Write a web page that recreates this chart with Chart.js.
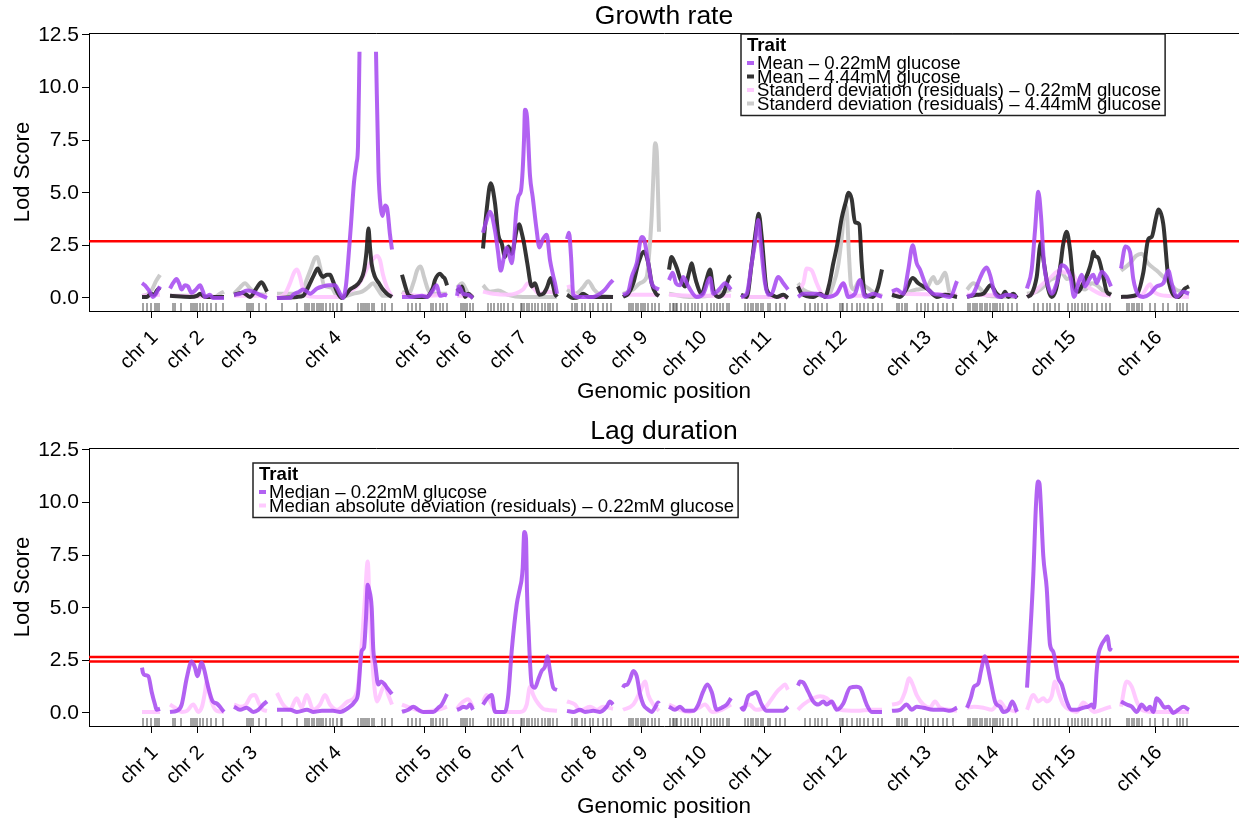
<!DOCTYPE html>
<html>
<head>
<meta charset="utf-8">
<script src="https://cdn.jsdelivr.net/npm/chart.js@4.4.1/dist/chart.umd.min.js"></script>
<style>
  body { margin: 0; background: #fff; overflow: hidden; }
  canvas { display: block; }
</style>
</head>
<body>
<canvas id="growthChart" width="1239" height="415"></canvas>
<canvas id="lagChart" width="1239" height="415"></canvas>
<script>
// chromosome layout (cM), gaps between chromosomes
const chromosomes = ["chr 1", "chr 2", "chr 3", "chr 4", "chr 5", "chr 6", "chr 7", "chr 8",
  "chr 9", "chr 10", "chr 11", "chr 12", "chr 13", "chr 14", "chr 15", "chr 16"];
const chrLengths = [18, 54, 33, 115, 45, 16, 74, 46, 36, 62, 47, 84, 65, 50, 84, 68];
const chrGap = 10;
const yTicks = [0, 2.5, 5, 7.5, 10, 12.5];

// marker positions per chromosome (cM from chromosome start)
const markerPositions = [
  [1, 5, 9, 13, 15, 17],
  [3, 5, 11, 21, 23, 25, 27, 30, 33, 37, 41, 46, 53],
  [13, 15, 17, 19, 25, 32],
  [5, 20, 28, 30, 32, 35, 37, 40, 42, 44, 46, 49, 53, 56, 60, 64, 65, 81, 84, 86, 88, 90, 92, 95, 97, 105, 108, 115],
  [6, 10, 14, 18, 29, 31, 34, 38, 41, 45],
  [4, 6, 8, 10, 13, 16],
  [5, 8, 11, 15, 18, 21, 25, 30, 38, 39, 41, 44, 46, 49, 52, 55, 59, 62, 65, 67, 70, 74],
  [5, 8, 10, 15, 18, 23, 26, 31, 36, 40, 44],
  [6, 8, 10, 13, 15, 18, 20, 22, 25, 29, 32, 36],
  [1, 4, 5, 7, 8, 12, 16, 19, 23, 26, 29, 33, 38, 42, 45, 48, 51, 54, 58, 60],
  [4, 7, 10, 12, 15, 17, 20, 22, 27, 29, 35, 39, 44],
  [7, 12, 17, 20, 24, 29, 42, 44, 45, 49, 54, 59, 62, 66, 70, 75, 80, 84],
  [5, 7, 10, 13, 15, 25, 29, 33, 36, 41, 46, 51, 55, 61],
  [1, 3, 6, 8, 10, 13, 15, 18, 20, 23, 26, 28, 30, 33, 36, 41, 45, 50],
  [7, 11, 16, 20, 23, 28, 32, 41, 45, 48, 51, 55, 58, 61, 65, 70, 75, 79, 83],
  [6, 8, 11, 13, 16, 18, 21, 29, 34, 42, 47, 56, 59, 62, 66]
];

// LOD thresholds
const growthThresholds = [2.7];
const lagThresholds = [2.66, 2.45];

// LOD profiles: per chromosome, [position (cM), LOD]
const growthMean022 = [
  [[0,0.7],[3,0.6],[7,0.35],[11,0.05],[14,0.2],[18,0.55]],
  [[0,0.45],[3,0.7],[6.5,0.9],[9,0.7],[11.5,0.4],[15,0.6],[18,0.55],[21.5,0.25],[26,0.4],[30,0.6],[33,0.3],[35,0.05],[40,0.15],[43,0],[54,0]],
  [[0,0.15],[6,0.2],[13,0.35],[19,0.3],[26,0.15],[33,0]],
  [[0,0],[13,0],[16,0.15],[22,0.3],[26,0.4],[30,0.3],[33,0.2],[40,0.45],[46,0.55],[52,0.6],[58,0.6],[61,0.4],[63,0.2],[66,0],[69,0.6],[71,1.65],[74,3.5],[77,5.5],[79.5,6.4],[81,7.2],[82.5,11.7],[90,null],[99,11.7],[101.5,6.0],[103.7,4.3],[105.5,3.9],[108,4.4],[110,4.3],[113,3.0],[115,2.3]],
  [[0,0.05],[10,0.05],[20,0.1],[25,0.05],[30,0.3],[34.7,0.6],[38,0.1],[43,0.15],[45,0.1]],
  [[0,0.1],[2,0.55],[6,0.2],[11,0.15],[16,0]],
  [[0,3.1],[3,3.6],[7,4.1],[12,3.2],[15,2.2],[17.7,1.3],[21,1.95],[23.7,2.4],[26,2.1],[28.7,1.65],[31,2.6],[33,4.0],[35.3,4.8],[38,5.1],[39.7,6.1],[41,7.5],[42,8.95],[44,8.6],[47,5.8],[49.7,4.8],[53.7,3.2],[56.3,2.4],[60,2.8],[63.7,3.0],[67,1.8],[70,1.1],[72,0.7],[74,0.2]],
  [[0,2.8],[2,3.1],[4,2.0],[6.3,0.15],[10,0.05],[26,0.05],[33,0.2],[38,0.4],[43,0.7],[46,0.85]],
  [[0,0.15],[5.3,0.3],[8.7,1.0],[13.7,1.65],[18.7,2.9],[21,2.8],[25.3,1.65],[28.7,0.7],[33.7,0.45],[36,0.4]],
  [[0,0.85],[3.7,1.2],[7,0.7],[11,0.6],[14.3,1.0],[19.3,0.55],[27.7,0.05],[34.3,0.2],[41,0.95],[44.3,0.2],[51,0.45],[56,0.7],[62,0.4]],
  [[0,0.05],[5.7,0.2],[10.7,1.65],[14,2.6],[17.3,3.7],[19.7,2.6],[24,0.7],[27.3,0.15],[30.7,0.2],[37.3,1.0],[42.3,0.7],[47,0.4]],
  [[0,0.05],[5.3,0.2],[18.7,0.2],[28.7,0.05],[38.7,0.2],[45.3,0.7],[50.3,0.05],[57,0.2],[62,0.85],[67,0.05],[75.3,0.2],[84,0.05]],
  [[0,0.3],[4.7,0.4],[11.3,0.2],[16.3,1.35],[20.7,2.5],[24.7,1.65],[28,1.35],[33,0.7],[36.3,0.4],[41.3,0.2],[48,0.15],[58,0.05],[65,0.8]],
  [[0,0.05],[6.3,0.2],[13,0.95],[16.5,1.3],[19.7,1.45],[23,1.1],[28,0.2],[33,0.05],[39.7,0.15],[50,0.05]],
  [[0,0.45],[4.7,1.35],[8,3.2],[11.3,5.05],[14,3.9],[17,1.65],[21.3,0.55],[24.7,0.2],[29.7,0.7],[34.7,1.55],[39.7,1.4],[43.7,0.95],[47,0.05],[51.3,0.7],[54.7,1.1],[58,0.55],[63,0.95],[66.3,1.1],[69.7,0.7],[74.7,1.25],[79.7,1.0],[84,0.55]],
  [[0,1.4],[4.5,2.45],[9,2.2],[12.3,0.9],[17.3,0.15],[22.3,0.05],[29,0.2],[35.7,0.55],[42.3,0.7],[47.3,1.3],[50.7,0.7],[55.7,0.05],[62.3,0.3],[68,0.2]]
];

const growthMean444 = [
  [[0,0.05],[5,0.05],[9,0.2],[12,0.15],[15,0.35],[18,0.5]],
  [[0,0.1],[20,0.05],[27,0.1],[30,0.2],[35,0.05],[54,0.05]],
  [[0,0.15],[9,0.25],[16,0.05],[23,0.5],[27.5,0.75],[33,0.3]],
  [[0,0],[20,0.05],[26,0.1],[30,0.4],[33,0.7],[37,1.1],[40.7,1.4],[44,1.1],[46,1.0],[50,1.1],[53,1.1],[56,0.8],[60,0.3],[64.7,0],[69,0.15],[73,0.4],[78,0.55],[83,0.8],[87,1.3],[89.5,2.2],[91.5,3.3],[93,2.4],[94.7,1.6],[98,1.0],[102,0.7],[106,0.4],[110,0.2],[115,0.05]],
  [[0,1.1],[3,0.6],[6.3,0.15],[12,0.05],[25,0.05],[28,0.2],[31,0.5],[33,0.85],[38,1.15],[41,1.0],[43,0.9],[45,0.6]],
  [[0,0.45],[3,0.3],[5,0.55],[8,0.05],[11.3,0.2],[16,0]],
  [[0,2.35],[3.7,4.2],[7.7,5.45],[12,4.5],[15.3,3.0],[18.7,2.6],[22,1.95],[25.3,2.45],[28.7,2.1],[33.7,3.25],[36.3,3.5],[38.7,3.1],[41,2.6],[44.3,1.65],[48.7,0.55],[52,0.7],[56.3,0.15],[60.3,0.2],[64,0.5],[67.7,0.95],[70,0.6],[72,0.2],[74,0.05]],
  [[0,0.15],[6,0],[12,0.05],[16,0.2],[22,0.05],[46,0.05]],
  [[0,0.05],[5.3,0.2],[10.3,0.7],[15.3,1.65],[21,2.2],[25.3,1.65],[28.7,0.7],[33,0.2],[36,0.1]],
  [[0,1.35],[2.5,1.95],[5,1.75],[8,1.4],[11,0.95],[16,0.55],[20,1.2],[22.7,1.65],[25,1.2],[27.7,0.7],[32.7,0.2],[37,0.8],[41,1.35],[44.3,0.4],[49.3,0.05],[54.3,0.2],[60.3,1.0],[62,1.05]],
  [[0,0.15],[5.7,0.05],[10.7,1.65],[15,3.25],[17.7,4.0],[20.7,2.9],[25.7,0.4],[30.7,0.15],[35.7,0.05],[42.3,0.15],[47,0]],
  [[0,0.55],[3.7,0.2],[15.3,0.05],[22,0.2],[27,0.05],[31,0.6],[35.3,1.65],[38.7,2.4],[43.7,3.8],[48,4.6],[50.3,5.0],[53.7,4.7],[57,3.6],[61.3,3.5],[63.7,1.65],[67,0.15],[75,0.05],[80,0.5],[84,1.35]],
  [[0,0.15],[8,0.05],[14,0.4],[20.7,0.95],[26.3,0.7],[31.3,0.55],[36.3,0.4],[44.7,0.05],[53,0.15],[65,0.05]],
  [[0,0.05],[9.7,0.15],[16.3,0.2],[23.7,0.6],[29.7,0.2],[34.7,0.05],[38,0.3],[41.3,0.05],[46.3,0.2],[50,0]],
  [[0,0.05],[4.7,0.2],[9.7,1.0],[13.7,2.6],[17,1.65],[21.3,0.4],[24.7,0.05],[29,0.4],[33.7,1.65],[36,2.5],[39.7,3.15],[43,2.3],[47,0.55],[51.3,0.3],[54.7,0.55],[61,1.2],[64.7,1.8],[66.3,2.2],[68,2.0],[71.3,1.9],[76.3,1.0],[79.7,0.3],[84,0.15]],
  [[0,0.05],[15.7,0.15],[22.3,1.2],[27.3,2.8],[30.7,2.9],[35,3.8],[37.3,4.2],[42.3,3.5],[47.3,0.95],[52.3,0.15],[57.3,0.05],[64,0.45],[68,0.55]]
];

const growthSd022 = [
  [[0,0.1],[18,0.15]],
  [[0,0.1],[54,0.05]],
  [[0,0.1],[33,0.1]],
  [[0,0],[8,0.2],[13,0.7],[17,1.2],[20,1.35],[23,1.0],[26,0.4],[30,0.1],[40,0.05],[64,0.05],[72,0.3],[80,0.55],[86,1.0],[91,1.5],[96,1.85],[100,2.0],[103,1.8],[106,1.1],[110,0.5],[115,0.05]],
  [[0,0.2],[20,0.1],[45,0.15]],
  [[0,0.1],[16,0.1]],
  [[0,0.3],[10,0.2],[25,0.15],[40,0.4],[45,0.7],[50,0.5],[56,0.2],[65,0.3],[74,0.2]],
  [[0,0.5],[3,0.55],[7,0.2],[13,0.05],[46,0.05]],
  [[0,0.15],[36,0.15]],
  [[0,0.15],[30,0.1],[62,0.1]],
  [[0,0.05],[47,0.05]],
  [[0,0.4],[5.3,0.7],[8.7,1.4],[13.7,1.3],[18.7,0.7],[23.7,0.2],[30,0.05],[40,0.3],[45,0.7],[50,0.3],[57,0.1],[84,0.1]],
  [[0,0.2],[65,0.15]],
  [[0,0.15],[50,0.1]],
  [[0,0.05],[8,0.3],[13,0.55],[23,0.95],[33,1.3],[38,1.2],[43,1.3],[50,0.8],[56,0.7],[65,0.4],[73,0.2],[84,0.1]],
  [[0,0.05],[20,0.1],[29,0.65],[33,0.3],[45,0.1],[68,0.05]]
];

const growthSd444 = [
  [[0,0.1],[5,0.15],[10,0.4],[14,0.8],[18,1.1]],
  [[0,0.1],[30,0.1],[45,0.05],[50,0.2],[54,0.3]],
  [[0,0.2],[6,0.5],[11,0.7],[16,0.45],[22.7,0.2],[33,0.15]],
  [[0,0.2],[19,0.2],[26,0.4],[30,0.9],[34,1.4],[38,1.9],[40,1.95],[43,1.5],[47,0.6],[54,0.5],[61,0.05],[70,0.1],[76,0.2],[85,0.3],[91,0.5],[96,0.7],[101,0.4],[106,0.1],[115,0.1]],
  [[0,0.3],[6,0.15],[12,0.8],[15,1.3],[18.7,1.5],[22,1.0],[26,0.4],[30,0.2],[45,0.2]],
  [[0,0.5],[5,0.7],[9,0.4],[11.3,0.2],[16,0.05]],
  [[0,0.6],[7,0.3],[15,0.35],[25,0.15],[40,0.05],[74,0.05]],
  [[0,0.4],[8,0.2],[16,0.5],[21.3,0.8],[27,0.4],[33,0.15],[46,0.05]],
  [[0,0.2],[10,0.4],[17,0.7],[23.7,1.0],[26,2.0],[28.7,3.9],[31,6.5],[32,7.35],[33.7,7.0],[35,5.0],[36,3.15]],
  [[0,0.2],[20,0.05],[40,0.1],[56,0.3],[62,0.4]],
  [[0,0.05],[47,0.05]],
  [[0,0.7],[5,0.4],[15,0.2],[30,0.1],[35,0.6],[40,1.5],[44,3.0],[47,4.4],[49,4.0],[51,2.0],[53,0.6],[56,0.4],[61,0.8],[66,0.6],[72,0.4],[78,0.2],[84,0.1]],
  [[0,0.05],[11.3,0.2],[24.7,0.4],[35,0.5],[41.3,1.0],[44.7,0.7],[48,0.8],[53,1.2],[58,0.2],[65,0.05]],
  [[0,0.4],[6.3,0.7],[13,0.45],[20,0.1],[50,0.05]],
  [[0,0.2],[10,0.3],[18,0.6],[23,0.85],[30,1.0],[34.7,1.2],[40,0.9],[43,0.95],[50,0.6],[58,0.4],[65,0.7],[70,0.6],[77,0.3],[84,0.2]],
  [[0,1.3],[9,1.65],[15,2.0],[20.7,2.1],[27,1.65],[35.7,1.3],[42.3,1.0],[49,0.7],[55,0.4],[62,0.3],[68,0.2]]
];

const lagMedian022 = [
  [[0,2.15],[1,1.9],[3,1.8],[6.3,1.75],[9.7,1.0],[13,0.4],[14.7,0.15],[18,0.2]],
  [[0,0.05],[6.7,0.1],[11.7,0.4],[16.7,1.65],[21.7,2.45],[25,2.15],[27.3,1.75],[31.7,2.4],[34,2.1],[38.3,1.2],[42.7,0.55],[46.7,0.45],[54,0.05]],
  [[0,0.3],[6,0.15],[12.7,0.25],[19.3,0.05],[24.3,0.15],[29.3,0.4],[33,0.55]],
  [[0,0.15],[13,0.15],[20,0.05],[30,0.15],[36,0.05],[45,0.1],[56,0.1],[63,0.05],[70,0.2],[78,0.55],[81,0.9],[84.7,2.95],[87,3.1],[89,4.5],[90.7,6.1],[92,5.9],[94.7,5.0],[96.3,3.0],[98,2.4],[101.3,1.35],[104,1.5],[107,1.4],[110,1.2],[115,0.9]],
  [[0,0.05],[6.3,0.15],[11.3,0.3],[16.3,0.15],[21.3,0.05],[31.3,0.05],[36.3,0.25],[39.7,0.4],[45,0.9]],
  [[0,0.15],[3,0.2],[6.3,0.3],[9.7,0.25],[13,0.4],[16,0.15]],
  [[0,0.4],[4.3,0.7],[8.7,0.85],[12,0.05],[22,0.05],[25.3,0.85],[28.7,2.95],[33.7,5.15],[37,5.95],[38.5,6.3],[39.7,6.9],[41.3,8.6],[43,8.3],[44,5.8],[45.3,4.2],[48.7,1.35],[52,1.2],[55.3,1.6],[58.7,2.0],[62,2.2],[64.3,2.7],[67,2.0],[70.3,1.2],[74,1.1]],
  [[0,0.1],[6.3,0.05],[13,0.15],[18,0.05],[26.3,0.1],[33,0.05],[39.7,0.3],[43,0.55],[46,0.4]],
  [[0,1.2],[1,1.3],[4.3,1.35],[7,1.6],[10.3,2.0],[13.7,1.75],[17,0.9],[20.3,0.4],[25.3,0.15],[28.7,0.05],[32,0.25],[35.3,0.5],[36,0.45]],
  [[0,0.3],[6,0.15],[11,0.3],[16,0.1],[24.3,0.1],[29.3,0.4],[34,1.0],[38.3,1.35],[42.7,1.0],[47.7,0.15],[52.7,0.25],[57.7,0.4],[62,0.7]],
  [[0,0.3],[2.3,0.15],[7.3,0.8],[10.7,0.9],[15,1.0],[20.7,0.4],[25.7,0.1],[35,0.1],[42.3,0.1],[47,0.3]],
  [[0,1.3],[2,1.5],[5.3,1.45],[10.3,1.0],[15.3,0.55],[20.3,0.4],[25.3,0.55],[28.7,0.4],[33.7,0.55],[38.7,0.15],[45.3,0.45],[52,1.2],[58.7,1.25],[62,1.2],[68.7,0.4],[73.7,0.05],[84,0.05]],
  [[0,0.1],[8,0.15],[14.7,0.4],[19.7,0.15],[24.7,0.3],[31.3,0.25],[41.3,0.15],[51.3,0.15],[58,0.1],[65,0.25]],
  [[0,0.25],[3.7,0.7],[7,1.25],[11.3,1.4],[14,2.0],[18,2.7],[20.3,2.3],[23.7,1.5],[28,0.55],[29.7,0.4],[33,0.3],[36.3,0.05],[41.3,0.15],[45.3,0.55],[50,0.05]],
  [[0,1.2],[3,3.55],[6.3,6.55],[9,9.9],[11,11.0],[12.5,10.9],[13.7,10.0],[16.3,7.45],[19.7,5.95],[23,3.25],[26.3,2.9],[31.3,1.65],[34.7,1.35],[39.7,0.55],[44.7,0.15],[49.7,0.15],[56.3,0.25],[61.3,0.3],[64.7,0.4],[67,0.25],[69.7,2.0],[71.3,2.75],[74.7,3.25],[78,3.5],[80.3,3.65],[83,3.0],[84,3.1]],
  [[0,0.55],[5.7,0.4],[10.7,0.3],[15.7,0.05],[20.7,0.4],[25.7,0.15],[29,0.3],[32.3,0.05],[35.7,0.7],[39,0.55],[44,0.25],[47.3,0.3],[52.3,0],[57.3,0.15],[62.3,0.3],[68,0.15]]
];

const lagMad022 = [
  [[0,0.05],[18,0.05]],
  [[0,0.4],[5,0.25],[11.7,0.05],[17,0.1],[23.3,0.4],[28.3,0.05],[32,0.3],[35,1.0],[36.7,1.5],[39,1.0],[41.7,0.5],[46.7,0.1],[54,0.05]],
  [[0,0.4],[6,0.3],[12,0.4],[17,0.8],[21,0.85],[25,0.45],[29,0.15],[33,0.1]],
  [[0,0.95],[6,0.4],[13,0.15],[19.7,0.7],[24.7,0.25],[29.7,0.85],[36.3,0.15],[43,0.4],[48,0.85],[53,0.4],[59.7,0.15],[71,0.55],[80,1.0],[84,2.8],[88,5.5],[90.7,7.2],[93,4.5],[96,2.0],[100,0.55],[105,1.1],[108,1.35],[111,0.9],[115,0.4]],
  [[0,0.4],[8,0.25],[14.7,0.15],[21.3,0.05],[36,0.15],[45,0.3]],
  [[0,0.2],[3,0.4],[11.3,0.65],[16,0.25]],
  [[0,0.55],[3.7,0.85],[8.7,0.4],[13.7,0.05],[37,0.05],[43.7,0.4],[47,1.25],[50.3,0.85],[53.7,0.55],[60,0.2],[63.7,0.15],[74,0.1]],
  [[0,0.55],[8,0.4],[13,0.1],[23,0.3],[29.7,0.15],[36,0.3],[46,0.2]],
  [[0,0.15],[10.3,0.4],[17,1.0],[22,1.5],[25.3,0.85],[30.3,0.4],[36,0.1]],
  [[0,0.4],[11,0.15],[20,0.05],[30,0.25],[36,0.4],[43,0.05],[52.7,0.15],[62,0.4]],
  [[0,0.15],[8,0.4],[15,0.15],[25,0.3],[29,0.55],[35.7,1.0],[40,1.2],[44,1.35],[47,1.1]],
  [[0,0.15],[5.3,0.4],[15.3,0.7],[22,0.8],[28.7,0.7],[35.3,0.4],[42,0.15],[58.7,0.1],[73.7,0.15],[84,0.15]],
  [[0,0.4],[8,0.5],[13,1.0],[17.3,1.65],[20.7,1.35],[24.7,0.85],[31.3,0.4],[38,0.25],[43,0.55],[48,0.25],[58,0.15],[65,0.1]],
  [[0,0.25],[7,0.3],[16.3,0.25],[24.7,0.15],[33,0.55],[38,0.25],[50,0.05]],
  [[0,0.15],[6.3,0.85],[11.3,0.55],[16.3,0.7],[19.7,0.55],[24.7,0.8],[28,1.5],[31.3,1.0],[36.3,0.4],[43,0.15],[49.7,0.05],[56.3,0.5],[61.3,0.3],[67,0.05],[74.7,0.15],[84,0.3]],
  [[0,0.3],[5.7,1.5],[10.7,1.25],[15.7,0.55],[20.7,0.15],[35,0.05],[68,0.05]]
];

// cumulative chromosome starts along the genome axis
const chrStart = [];
chrLengths.reduce((pos, len, i) => { chrStart[i] = pos; return pos + len + chrGap; }, 0);
const chrMid = chrLengths.map((len, i) => chrStart[i] + len / 2);

const xMin = -53, xMax = 1097;
const yMin = -0.62, yMax = 12.595;
const rugLevel = -0.43;
const fontFamily = "'Liberation Sans', Arial, Helvetica, sans-serif";
const legendFont = 18.6;

Chart.defaults.font.family = fontFamily;
Chart.defaults.color = "#000";

function buildLine(series) {
  const pts = [];
  series.forEach((chr, i) => {
    chr.forEach(([pos, lod]) => pts.push({ x: chrStart[i] + pos, y: lod }));
    pts.push({ x: chrStart[i] + chrLengths[i] + chrGap / 2, y: null });
  });
  return pts;
}

const rugPoints = markerPositions.flatMap((list, i) => list.map(p => ({ x: chrStart[i] + p, y: rugLevel })));

// boxed "Trait" legend drawn inside the plot
const traitLegend = {
  id: "traitLegend",
  afterDatasetsDraw(chart, args, opts) {
    const ctx = chart.ctx;
    const items = chart.data.datasets.filter(d => d.isTrait);
    ctx.save();
    ctx.font = legendFont + "px " + fontFamily;
    const textW = Math.max(...items.map(d => ctx.measureText(d.label).width));
    const w = 16 + textW + 4;
    const h = 29 + (items.length - 1) * 13.5 + 12;
    ctx.fillStyle = "#fff";
    ctx.fillRect(opts.left, opts.top, w, h);
    ctx.strokeStyle = "#222";
    ctx.lineWidth = 1.5;
    ctx.strokeRect(opts.left, opts.top, w, h);
    ctx.textBaseline = "middle";
    ctx.fillStyle = "#000";
    ctx.font = "bold " + legendFont + "px " + fontFamily;
    ctx.fillText("Trait", opts.left + 6, opts.top + 12);
    ctx.font = legendFont + "px " + fontFamily;
    items.forEach((d, i) => {
      const y = opts.top + 29 + i * 13.5;
      ctx.fillStyle = d.borderColor;
      ctx.fillRect(opts.left + 6, y - 2, 7, 4);
      ctx.fillStyle = "#000";
      ctx.fillText(d.label, opts.left + 16, y + 1);
    });
    ctx.restore();
  }
};

function makeChart(id, titleText, traits, thresholds, legendPos) {
  const datasets = traits.map(t => ({
    label: t.label,
    data: buildLine(t.data),
    borderColor: t.color,
    borderWidth: 4,
    pointRadius: 0,
    cubicInterpolationMode: "monotone",
    spanGaps: false,
    isTrait: true
  }));
  thresholds.forEach(th => datasets.push({
    label: "threshold",
    data: [{ x: xMin, y: th }, { x: xMax, y: th }],
    borderColor: "#ff0000",
    borderWidth: 2.5,
    pointRadius: 0
  }));
  datasets.push({
    label: "markers",
    data: rugPoints,
    showLine: false,
    pointStyle: "line",
    pointRotation: 90,
    pointRadius: 4,
    pointBorderColor: "#333",
    pointBorderWidth: 0.9
  });

  return new Chart(document.getElementById(id), {
    type: "line",
    data: { datasets },
    plugins: [traitLegend],
    options: {
      responsive: false,
      animation: false,
      events: [],
      devicePixelRatio: 1,
      layout: { autoPadding: false, padding: 0 },
      plugins: {
        legend: { display: false },
        tooltip: { enabled: false },
        title: {
          display: true,
          text: titleText,
          fullSize: false,
          font: { size: 26.5, weight: "normal" },
          color: "#000",
          padding: { top: 1.2, bottom: 0 }
        },
        traitLegend: legendPos
      },
      scales: {
        x: {
          type: "linear",
          min: xMin,
          max: xMax,
          afterBuildTicks: scale => { scale.ticks = chrMid.map(v => ({ value: v })); },
          afterFit: scale => { scale.height = 104; scale.paddingLeft = 0; scale.paddingRight = 0; },
          ticks: {
            autoSkip: false,
            minRotation: 45,
            maxRotation: 45,
            padding: 8,
            labelOffset: 4,
            font: { size: 20 },
            color: "#000",
            callback: (value, index) => chromosomes[index]
          },
          grid: { drawOnChartArea: false, tickLength: 7, color: "#000" },
          border: { display: true, color: "#000", width: 1 },
          title: {
            display: true,
            text: "Genomic position",
            font: { size: 22.5 },
            color: "#000",
            padding: { top: 0, bottom: 10 }
          }
        },
        x2: {
          type: "linear",
          position: "top",
          afterFit: scale => { scale.height = 0; scale.paddingLeft = 0; scale.paddingRight = 0; },
          ticks: { display: false },
          grid: { display: true, drawOnChartArea: false, drawTicks: false },
          border: { display: true, color: "#000", width: 1 }
        },
        y: {
          min: yMin,
          max: yMax,
          afterBuildTicks: scale => { scale.ticks = yTicks.map(v => ({ value: v })); },
          afterFit: scale => { scale.width = 89; },
          ticks: {
            padding: 3,
            font: { size: 21 },
            color: "#000",
            callback: v => v.toFixed(1)
          },
          grid: { drawOnChartArea: false, tickLength: 7, color: "#000" },
          border: { display: true, color: "#000", width: 1 },
          title: {
            display: true,
            text: "Lod Score",
            font: { size: 22 },
            color: "#000",
            padding: { top: 10, bottom: 0 }
          }
        }
      }
    }
  });
}

const purple = "rgba(165, 70, 240, 0.85)";
const dark = "rgba(30, 30, 30, 0.9)";
const pink = "rgba(255, 196, 255, 0.9)";
const grey = "rgba(200, 200, 200, 0.95)";

makeChart("growthChart", "Growth rate", [
  { label: "Mean \u2013 0.22mM glucose", data: growthMean022, color: purple },
  { label: "Mean \u2013 4.44mM glucose", data: growthMean444, color: dark },
  { label: "Standerd deviation (residuals) \u2013 0.22mM glucose", data: growthSd022, color: pink },
  { label: "Standerd deviation (residuals) \u2013 4.44mM glucose", data: growthSd444, color: grey }
], growthThresholds, { left: 741, top: 34 });

makeChart("lagChart", "Lag duration", [
  { label: "Median \u2013 0.22mM glucose", data: lagMedian022, color: purple },
  { label: "Median absolute deviation (residuals) \u2013 0.22mM glucose", data: lagMad022, color: pink }
], lagThresholds, { left: 253, top: 48 });
</script>
</body>
</html>
